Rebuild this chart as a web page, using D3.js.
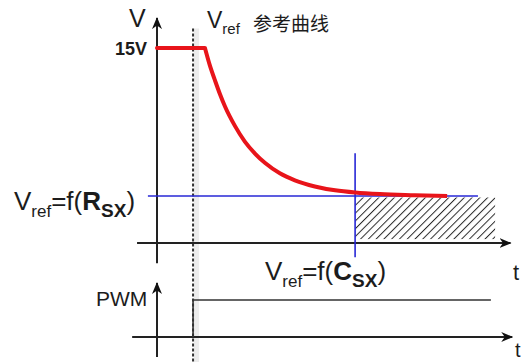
<!DOCTYPE html>
<html>
<head>
<meta charset="utf-8">
<script src="https://cdn.jsdelivr.net/npm/d3@7"></script>
<style>
  body { margin: 0; background: #fff; }
  svg { display: block; }
  text { font-family: "Liberation Sans", Arial, sans-serif; fill: #1c1c1c; }
  .cjk { font-family: "Noto Sans CJK SC", sans-serif; }
</style>
</head>
<body>
<svg id="chart" width="525" height="362"></svg>
<script>
// Reference voltage during soft start: flat at 15 V, then decaying to the set level
const plateauTime = [0, 1.37];
const plateauVolt = [15, 15];
const vrefTime = [1.37, 1.51, 1.66, 1.8, 1.94, 2.23, 2.51, 2.8, 3.09, 3.51, 3.94, 4.51, 5.09, 5.66, 6.37, 7.37, 8.29];
const vrefVolt = [15, 13.66, 12.48, 11.44, 10.52, 8.99, 7.8, 6.88, 6.15, 5.36, 4.82, 4.35, 4.05, 3.88, 3.76, 3.68, 3.62];

// Set level Vref = f(Rsx) and the settle instant Vref = f(Csx)
const vrefFinal = 3.62;
const refLineTime = [-0.26, 9.17];
const settleTime = 5.66;
const settleMarkVolt = [-1.1, 6.9];
const hatchTime = [5.66, 9.66];
const hatchVolt = [0.3, 3.5];

// Start instant (dashed) and PWM enable
const startTime = 1.03;
const pwmTime = [1.03, 1.03, 9.54];
const pwmState = [0, 1, 1];

// Axis extents
const tAxisMain = [-0.57, 10.1];
const vAxisMain = [-1.55, 17.3];
const tAxisPwm = [-0.71, 10.15];
const pwmAxis = [-0.54, 1.46];

const svg = d3.select("#chart");
const x = d3.scaleLinear().domain([0, 10]).range([157, 507]);
const y = d3.scaleLinear().domain([0, 15]).range([243, 48]);
const yp = d3.scaleLinear().domain([0, 1]).range([337, 300]);

const defs = svg.append("defs");
defs.append("marker")
  .attr("id", "arrow")
  .attr("markerUnits", "userSpaceOnUse")
  .attr("viewBox", "0 0 12 10")
  .attr("refX", 11).attr("refY", 5)
  .attr("markerWidth", 12).attr("markerHeight", 10)
  .attr("orient", "auto")
  .append("path")
  .attr("d", "M0,0 L12,5 L0,10 L3.5,5 Z")
  .attr("fill", "#111");

const hatch = defs.append("pattern")
  .attr("id", "hatch")
  .attr("patternUnits", "userSpaceOnUse")
  .attr("width", 5.5).attr("height", 5.5)
  .attr("patternTransform", "rotate(45)");
hatch.append("line")
  .attr("x1", 0).attr("y1", 0).attr("x2", 0).attr("y2", 5.5)
  .attr("stroke", "#2a2a2a").attr("stroke-width", 2);

// Hatched region below the set level after settling
svg.append("rect")
  .attr("x", x(hatchTime[0]))
  .attr("y", y(hatchVolt[1]))
  .attr("width", x(hatchTime[1]) - x(hatchTime[0]))
  .attr("height", y(hatchVolt[0]) - y(hatchVolt[1]))
  .attr("fill", "url(#hatch)");

// Start marker: light band plus dashed line
const topY = y(16.5);
svg.append("rect")
  .attr("x", x(startTime) + 1).attr("y", topY)
  .attr("width", 5).attr("height", 362 - topY)
  .attr("fill", "#ececec");
svg.append("line")
  .attr("x1", x(startTime)).attr("x2", x(startTime))
  .attr("y1", topY).attr("y2", 362)
  .attr("stroke", "#333").attr("stroke-width", 2)
  .attr("stroke-dasharray", "3,2");

// Main axes
svg.append("line")
  .attr("x1", x(0)).attr("x2", x(0))
  .attr("y1", y(vAxisMain[0])).attr("y2", y(vAxisMain[1]))
  .attr("stroke", "#222").attr("stroke-width", 2)
  .attr("marker-end", "url(#arrow)");
svg.append("line")
  .attr("x1", x(tAxisMain[0])).attr("x2", x(tAxisMain[1]))
  .attr("y1", y(0)).attr("y2", y(0))
  .attr("stroke", "#222").attr("stroke-width", 2)
  .attr("marker-end", "url(#arrow)");

// Blue reference lines
svg.append("line")
  .attr("x1", x(refLineTime[0])).attr("x2", x(refLineTime[1]))
  .attr("y1", y(vrefFinal)).attr("y2", y(vrefFinal))
  .attr("stroke", "#2727d6").attr("stroke-width", 1.6);
svg.append("line")
  .attr("x1", x(settleTime)).attr("x2", x(settleTime))
  .attr("y1", y(settleMarkVolt[0])).attr("y2", y(settleMarkVolt[1]))
  .attr("stroke", "#2727d6").attr("stroke-width", 1.6);

// Vref curve
const flat = d3.line().x(d => x(d[0])).y(d => y(d[1]));
const smooth = d3.line().x(d => x(d[0])).y(d => y(d[1])).curve(d3.curveMonotoneX);
svg.append("path")
  .attr("d", flat(d3.zip(plateauTime, plateauVolt)))
  .attr("fill", "none").attr("stroke", "#e8141a").attr("stroke-width", 4)
  .attr("stroke-linecap", "round");
svg.append("path")
  .attr("d", smooth(d3.zip(vrefTime, vrefVolt)))
  .attr("fill", "none").attr("stroke", "#e8141a").attr("stroke-width", 4)
  .attr("stroke-linejoin", "round").attr("stroke-linecap", "butt");

// PWM axes and signal
svg.append("line")
  .attr("x1", x(0)).attr("x2", x(0))
  .attr("y1", yp(pwmAxis[0])).attr("y2", yp(pwmAxis[1]))
  .attr("stroke", "#222").attr("stroke-width", 2)
  .attr("marker-end", "url(#arrow)");
svg.append("line")
  .attr("x1", x(tAxisPwm[0])).attr("x2", x(tAxisPwm[1]))
  .attr("y1", yp(0)).attr("y2", yp(0))
  .attr("stroke", "#222").attr("stroke-width", 2)
  .attr("marker-end", "url(#arrow)");
svg.append("path")
  .attr("d", flat.y(d => yp(d[1]))(d3.zip(pwmTime, pwmState)))
  .attr("fill", "none").attr("stroke", "#333").attr("stroke-width", 1.6);

// Labels
svg.append("text").attr("x", 129).attr("y", 27).attr("font-size", 25).text("V");
svg.append("text").attr("x", 115).attr("y", 55).attr("font-size", 18).attr("font-weight", "bold").text("15V");

const title = svg.append("text").attr("x", 207).attr("y", 28);
title.append("tspan").attr("font-size", 23).text("V");
title.append("tspan").attr("font-size", 15).attr("dy", 6).text("ref");
svg.append("text").attr("class", "cjk").attr("x", 253).attr("y", 31)
  .attr("font-size", 19).text("参考曲线");

function vrefLabel(x0, y0, sym) {
  const t = svg.append("text").attr("x", x0).attr("y", y0).attr("font-size", 26);
  t.append("tspan").text("V");
  t.append("tspan").attr("font-size", 17).attr("dy", 7).text("ref");
  t.append("tspan").attr("dy", -7).text("=f(");
  t.append("tspan").attr("font-weight", "bold").text(sym);
  t.append("tspan").attr("font-weight", "bold").attr("font-size", 19).attr("dy", 7).text("SX");
  t.append("tspan").attr("dy", -7).text(")");
}
vrefLabel(14, 210, "R");
vrefLabel(265, 280, "C");

svg.append("text").attr("x", 96).attr("y", 306).attr("font-size", 21).text("PWM");
svg.append("text").attr("x", 513).attr("y", 280).attr("font-size", 22).text("t");
svg.append("text").attr("x", 515).attr("y", 357).attr("font-size", 20).text("t");
</script>
</body>
</html>
